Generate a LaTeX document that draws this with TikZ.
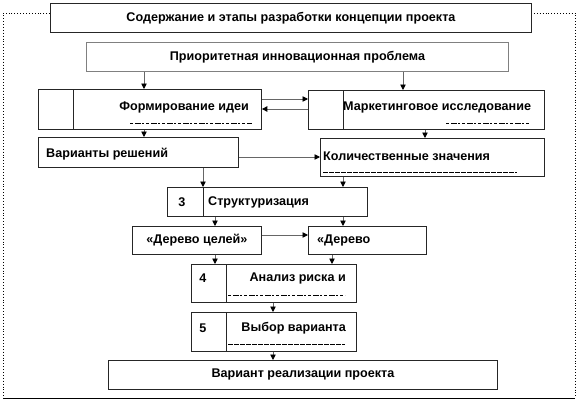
\documentclass[tikz,border=0pt]{standalone}
\usepackage{fontspec}
\setmainfont{Liberation Sans}
\usetikzlibrary{arrows.meta}
\begin{document}
\begin{tikzpicture}[x=1pt,y=-1pt,
  box/.style={draw=black!85,line width=0.9pt,inner sep=0pt,anchor=north west},
  gbox/.style={box,draw=black!50},
  lbl/.style={inner sep=0pt,font=\fontsize{12.6}{14}\selectfont\bfseries},
  arr/.style={draw=black!60,line width=0.9pt,-{Triangle[length=5.5pt,width=5.5pt,color=black]}},
  clip line/.style={line width=0.9pt,dash pattern=on 3pt off 2pt on 6pt off 1pt on 2pt off 2pt},
  frame/.style={line width=0.9pt,dotted}]
\useasboundingbox (0,0) rectangle (582,402);
\newcommand\bx[6][box]{\node[#1,minimum width={(#5-#3)*1pt},minimum height={(#6-#4)*1pt}] (#2) at (#3,#4) {};}
% outer frame
\draw[frame] (50,13) -- (3,13) -- (3,398);
\draw[frame] (531,13) -- (575,13) -- (575,398);
\draw[line width=0.9pt] (3,398) -- (575,398);
% boxes
\bx[box,fill=white]{title}{50}{3}{531}{32}
\bx[gbox]{prio}{86}{42}{508}{71}
\bx{idea}{38}{89}{261}{129}
\bx{mkt}{308}{90}{544}{129}
\bx{var}{38}{137}{238}{167}
\bx{kol}{320}{138}{544}{176}
\bx{str}{167}{187}{367}{216}
\bx{tree1}{132}{226}{261}{254}
\bx{tree2}{308}{226}{426}{254}
\bx{ana}{191}{264}{356}{302}
\bx{vyb}{191}{312}{356}{351}
\bx{fin}{108}{360}{497}{389}
% dividers
\draw[line width=0.9pt,black!85] (idea.north west) ++(35,0) -- ++(0,40);
\draw[line width=0.9pt,black!85] (mkt.north west) ++(35,0) -- ++(0,39);
\draw[line width=0.9pt,black!85] (str.north west) ++(36,0) -- ++(0,29);
\draw[line width=0.9pt,black!85] (ana.north west) ++(35,0) -- ++(0,38);
\draw[line width=0.9pt,black!85] (vyb.north west) ++(35,0) -- ++(0,39);
% texts
\node[lbl] (t-title) at (title.center) {Содержание и этапы разработки концепции проекта};
\node[lbl] (t-prio) at (prio.center) {Приоритетная инновационная проблема};
\node[lbl,anchor=east] (t-idea) at (249,107) {Формирование идеи};
\node[lbl,anchor=west] (t-mkt) at (343,107) {Маркетинговое исследование};
\node[lbl,anchor=west] (t-var) at (46,154) {Варианты решений};
\node[lbl,anchor=west] (t-kol) at (323,156) {Количественные значения};
\node[lbl] (t-3) at (182,202) {3};
\node[lbl,anchor=west] (t-str) at (208,202) {Структуризация};
\node[lbl] (t-tree1) at (tree1.center) {«Дерево целей»};
\node[lbl,anchor=west] (t-tree2) at (317,240) {«Дерево};
\node[lbl] (t-4) at (203,278) {4};
\node[lbl,anchor=east] (t-ana) at (346,278) {Анализ риска и};
\node[lbl] (t-5) at (203,328) {5};
\node[lbl,anchor=east] (t-vyb) at (346,328) {Выбор варианта};
\node[lbl] (t-fin) at (fin.center) {Вариант реализации проекта};
% clipped second lines
\draw[clip line] (130,123) -- (252,123);
\draw[clip line] (446,123) -- (530,123);
\draw[clip line,dash pattern=on 5pt off 1pt] (323,172) -- (517,172);
\draw[clip line] (228,295) -- (345,295);
\draw[clip line,dash pattern=on 5pt off 1pt] (228,344) -- (345,344);
% x positions for connectors
\coordinate (xa) at (144,0);
\coordinate (xb) at (403,0);
\coordinate (xc) at (425,0);
\coordinate (xd) at (203,0);
\coordinate (xe) at (343,0);
\coordinate (xf) at (215,0);
\coordinate (xg) at (332,0);
\coordinate (xh) at (273,0);
\coordinate (y1) at (0,99);
\coordinate (y2) at (0,109);
\coordinate (y3) at (0,157);
\coordinate (y4) at (0,235);
% connectors
\draw[arr] (prio.south -| xa) -- (idea.north -| xa);
\draw[arr] (prio.south -| xb) -- (mkt.north -| xb);
\draw[arr] (idea.east |- y1) -- (mkt.west |- y1);
\draw[arr] (mkt.west |- y2) -- (idea.east |- y2);
\draw[arr] (idea.south -| xa) -- (var.north -| xa);
\draw[arr] (mkt.south -| xc) -- (kol.north -| xc);
\draw[arr] (var.east |- y3) -- (kol.west |- y3);
\draw[arr] (var.south -| xd) -- (str.north -| xd);
\draw[arr] (kol.south -| xe) -- (str.north -| xe);
\draw[arr] (str.south -| xf) -- (tree1.north -| xf);
\draw[arr] (str.south -| xe) -- (tree2.north -| xe);
\draw[arr] (tree1.east |- y4) -- (tree2.west |- y4);
\draw[arr] (tree1.south -| xf) -- (ana.north -| xf);
\draw[arr] (tree2.south -| xg) -- (ana.north -| xg);
\draw[arr] (ana.south -| xh) -- (vyb.north -| xh);
\draw[arr] (vyb.south -| xh) -- (fin.north -| xh);
\end{tikzpicture}
\end{document}
